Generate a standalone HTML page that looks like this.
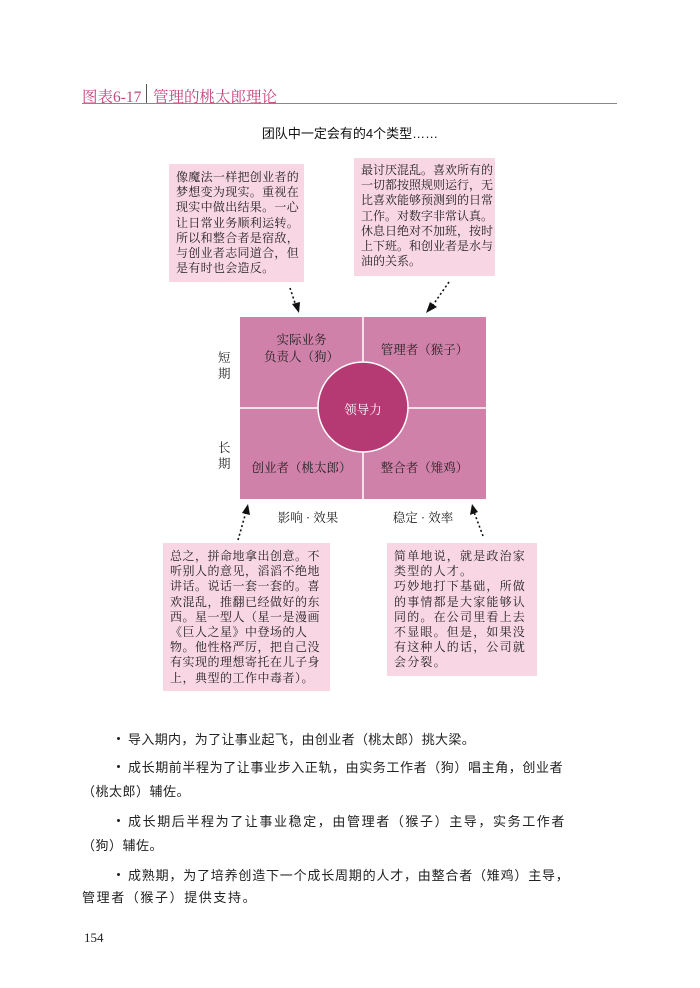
<!DOCTYPE html>
<html><head><meta charset="utf-8"><style>
body{margin:0;width:700px;height:988px;background:#fff;position:relative;overflow:hidden;font-family:"Liberation Sans","Noto Sans CJK SC",sans-serif;color:#222}
.a{position:absolute;white-space:nowrap}
.hd{font-family:"Liberation Serif","Noto Serif CJK SC",serif;color:#c4457f;font-size:15.5px}
.box{position:absolute;background:#f9d6e4;font-family:"Liberation Serif","Noto Serif CJK SC",serif;font-size:12px;line-height:15.2px;color:#222;box-sizing:border-box;padding:6px 7px;letter-spacing:0.3px}
.box div{white-space:nowrap}
.q{position:absolute;font-family:"Liberation Serif","Noto Serif CJK SC",serif;font-size:12.5px;color:#222;text-align:center;white-space:nowrap}
.t{position:absolute;font-size:13px;white-space:nowrap}
.d{position:absolute;left:117px;width:3px;height:3px;background:#222;border-radius:50%}
</style></head><body>
<div class="a hd" style="left:82px;top:85px">图表6-17</div>
<div class="a" style="left:146px;top:84px;width:1px;height:19px;background:#555"></div>
<div class="a hd" style="left:153px;top:85px">管理的桃太郎理论</div>
<div class="a" style="left:82px;top:103px;width:535px;height:1px;background:#888"></div>
<div class="a" style="left:0;width:700px;text-align:center;top:123px;font-size:13px;color:#111">团队中一定会有的4个类型……</div>

<div class="box" style="left:169px;top:164px;width:135px;height:118px">
<div>像魔法一样把创业者的</div><div>梦想变为现实。重视在</div><div>现实中做出结果。一心</div><div>让日常业务顺利运转。</div><div>所以和整合者是宿敌，</div><div>与创业者志同道合，但</div><div>是有时也会造反。</div></div>
<div class="box" style="left:354px;top:158px;width:141px;height:118px;padding-top:5px;letter-spacing:0">
<div>最讨厌混乱。喜欢所有的</div><div>一切都按照规则运行，无</div><div>比喜欢能够预测到的日常</div><div>工作。对数字非常认真。</div><div>休息日绝对不加班，按时</div><div>上下班。和创业者是水与</div><div>油的关系。</div></div>

<svg class="a" style="left:0;top:0" width="700" height="988">
<rect x="240" y="317" width="246" height="182" fill="#d081a9"/>
<line x1="363" y1="317" x2="363" y2="499" stroke="#fff" stroke-width="1.5"/>
<line x1="240" y1="408" x2="486" y2="408" stroke="#fff" stroke-width="1.5"/>
<circle cx="363" cy="407" r="45" fill="#b53a74" stroke="#fff" stroke-width="1.5"/>
<g stroke="#111" stroke-width="1.6" stroke-dasharray="2,2.5" fill="none">
<line x1="290" y1="288" x2="296" y2="306"/>
<line x1="449" y1="282" x2="433" y2="305"/>
<line x1="238" y1="540" x2="246" y2="512"/>
<line x1="483" y1="536" x2="474" y2="512"/>
</g>
<g fill="#111">
<polygon points="299,313 292,304 300,302"/>
<polygon points="426,313 430,302 437,307"/>
<polygon points="248,504 242,513 250,515"/>
<polygon points="472,504 470,515 478,512"/>
</g>
</svg>
<div class="q" style="left:240px;top:332px;width:123px;line-height:17px">实际业务<br>负责人（狗）</div>
<div class="q" style="left:363px;top:340px;width:123px">管理者（猴子）</div>
<div class="q" style="left:240px;top:458px;width:123px">创业者（桃太郎）</div>
<div class="q" style="left:363px;top:458px;width:123px">整合者（雉鸡）</div>
<div class="q" style="left:318px;top:400px;width:90px;color:#fff">领导力</div>
<div class="q" style="left:218px;top:350px;line-height:16px">短<br>期</div>
<div class="q" style="left:218px;top:440px;line-height:16px">长<br>期</div>
<div class="q" style="left:268px;top:508px;width:80px">影响 · 效果</div>
<div class="q" style="left:383px;top:508px;width:80px">稳定 · 效率</div>

<div class="box" style="left:163px;top:543px;width:167px;height:148px;padding:6px 7px;letter-spacing:0.5px">
<div>总之，拼命地拿出创意。不</div><div>听别人的意见，滔滔不绝地</div><div>讲话。说话一套一套的。喜</div><div>欢混乱，推翻已经做好的东</div><div>西。星一型人（星一是漫画</div><div>《巨人之星》中登场的人</div><div>物。他性格严厉，把自己没</div><div>有实现的理想寄托在儿子身</div><div>上，典型的工作中毒者）。</div></div>
<div class="box" style="left:387px;top:543px;width:150px;height:133px;padding:6px 7px;letter-spacing:1.2px">
<div>简单地说，就是政治家</div><div>类型的人才。</div><div>巧妙地打下基础，所做</div><div>的事情都是大家能够认</div><div>同的。在公司里看上去</div><div>不显眼。但是，如果没</div><div>有这种人的话，公司就</div><div>会分裂。</div></div>

<div class="d" style="top:737px"></div>
<div class="t" style="left:128px;top:729px;letter-spacing:0.35px">导入期内，为了让事业起飞，由创业者（桃太郎）挑大梁。</div>
<div class="d" style="top:765px"></div>
<div class="t" style="left:128px;top:757px;letter-spacing:0.6px">成长期前半程为了让事业步入正轨，由实务工作者（狗）唱主角，创业者</div>
<div class="t" style="left:82px;top:781px;letter-spacing:0.5px">（桃太郎）辅佐。</div>
<div class="d" style="top:819px"></div>
<div class="t" style="left:128px;top:811px;letter-spacing:1.6px">成长期后半程为了让事业稳定，由管理者（猴子）主导，实务工作者</div>
<div class="t" style="left:82px;top:835px;letter-spacing:0.5px">（狗）辅佐。</div>
<div class="d" style="top:873px"></div>
<div class="t" style="left:128px;top:865px;letter-spacing:0.8px">成熟期，为了培养创造下一个成长周期的人才，由整合者（雉鸡）主导，</div>
<div class="t" style="left:82px;top:887px;letter-spacing:1.6px">管理者（猴子）提供支持。</div>
<div class="a" style="left:84px;top:930px;font-family:'Liberation Serif',serif;font-size:13px">154</div>
</body></html>
